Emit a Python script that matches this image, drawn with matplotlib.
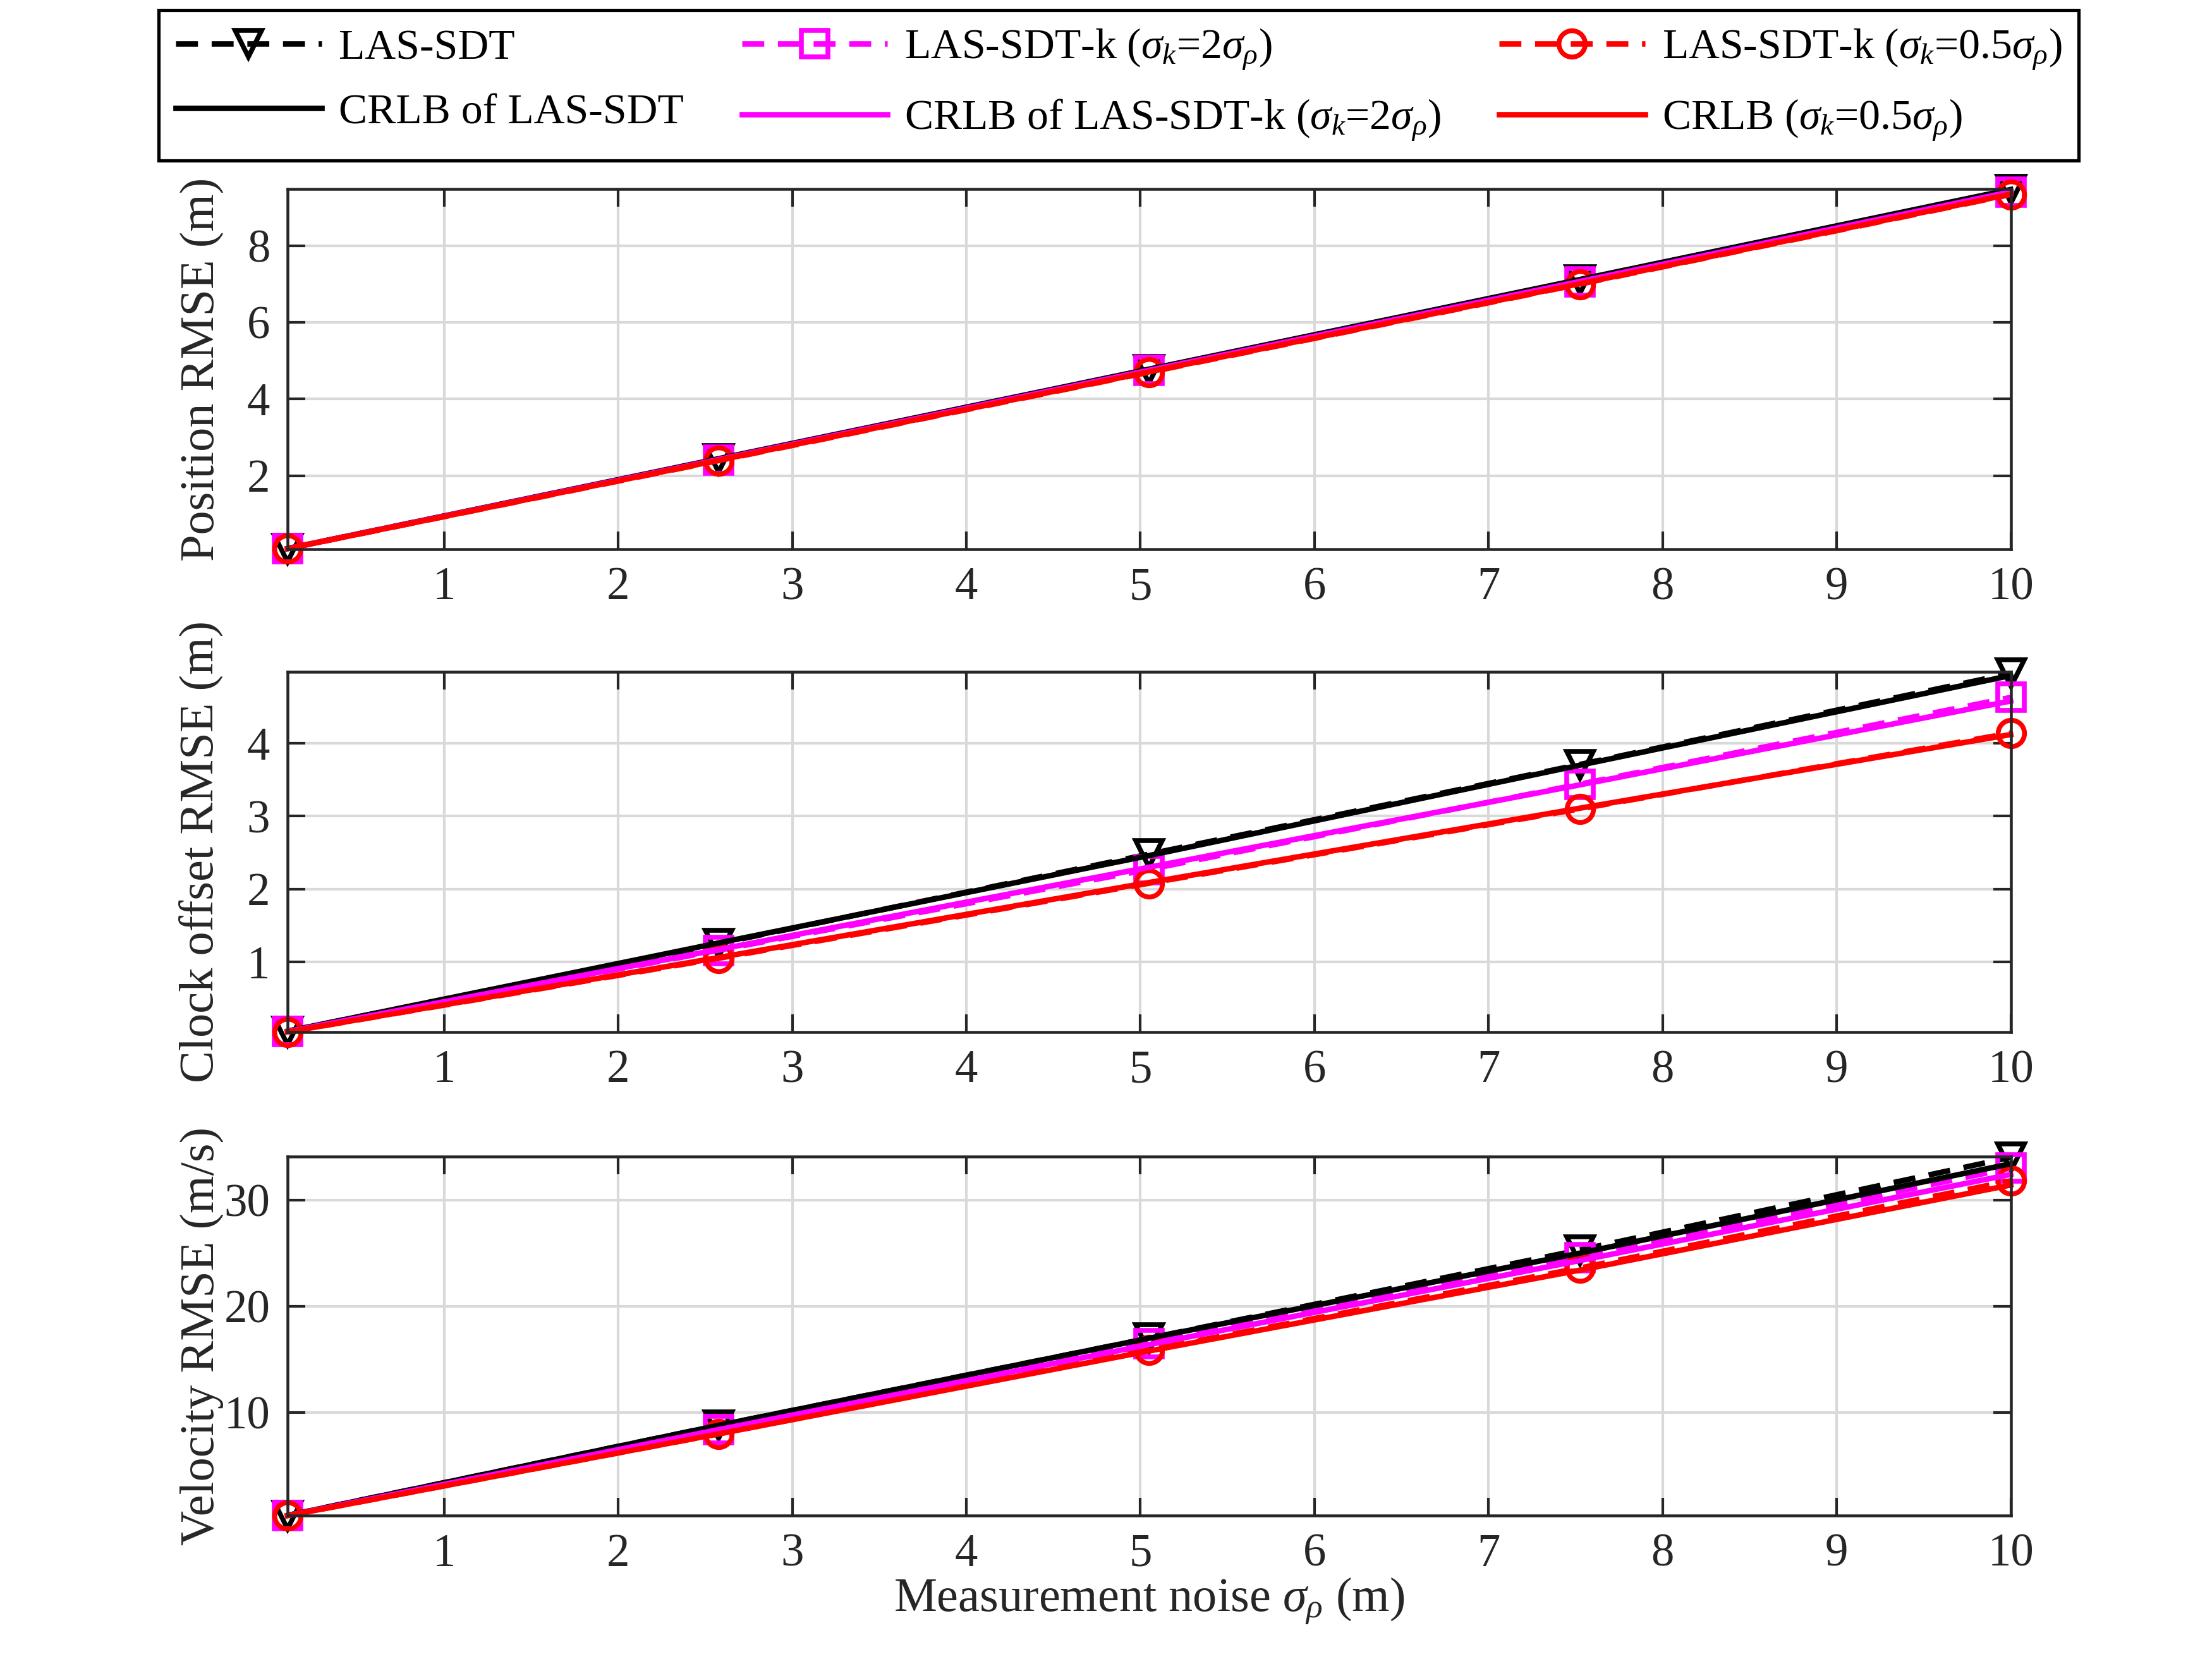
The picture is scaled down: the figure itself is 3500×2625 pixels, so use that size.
import matplotlib
matplotlib.use("Agg")
import matplotlib.pyplot as plt
import numpy as np

plt.rcParams['font.family'] = ['Liberation Serif', 'DejaVu Serif']
plt.rcParams['mathtext.fontset'] = 'custom'
plt.rcParams['mathtext.rm'] = 'Liberation Serif'
plt.rcParams['mathtext.it'] = 'Liberation Serif:italic'
plt.rcParams['font.size'] = 21

noise = [0.1, 2.575, 5.05, 7.525, 10.0]

# position RMSE (m)
pos_sdt = [0.095, 2.43, 4.77, 7.11, 9.46]
pos_k2 = [0.094, 2.41, 4.74, 7.06, 9.40]
pos_k05 = [0.093, 2.39, 4.70, 7.00, 9.34]
pos_crlb = [0.095, 2.44, 4.78, 7.12, 9.47]
pos_crlb_k2 = [0.094, 2.42, 4.75, 7.07, 9.41]
pos_crlb_k05 = [0.093, 2.40, 4.71, 7.01, 9.35]

# clock offset RMSE (m)
clk_sdt = [0.05, 1.25, 2.48, 3.71, 4.96]
clk_k2 = [0.046, 1.16, 2.27, 3.44, 4.63]
clk_k05 = [0.04, 1.05, 2.08, 3.10, 4.14]
clk_crlb = [0.05, 1.26, 2.46, 3.70, 4.93]
clk_crlb_k2 = [0.046, 1.17, 2.30, 3.43, 4.58]
clk_crlb_k05 = [0.04, 1.06, 2.09, 3.11, 4.12]

# velocity RMSE (m/s)
vel_sdt = [0.34, 8.8, 17.0, 25.3, 34.0]
vel_k2 = [0.33, 8.4, 16.5, 24.6, 33.0]
vel_k05 = [0.32, 8.0, 15.9, 23.6, 31.8]
vel_crlb = [0.34, 8.8, 17.0, 25.0, 33.4]
vel_crlb_k2 = [0.33, 8.4, 16.4, 24.3, 32.4]
vel_crlb_k05 = [0.32, 8.0, 15.8, 23.4, 31.4]

ylabels = ['Position RMSE (m)', 'Clock offset RMSE (m)', 'Velocity RMSE (m/s)']
yticks = [[2, 4, 6, 8], [1, 2, 3, 4], [10, 20, 30]]
ylims = [(0.08, 9.48), (0.04, 4.98), (0.3, 34.1)]
panels = [
    (pos_sdt, pos_k2, pos_k05, pos_crlb, pos_crlb_k2, pos_crlb_k05),
    (clk_sdt, clk_k2, clk_k05, clk_crlb, clk_crlb_k2, clk_crlb_k05),
    (vel_sdt, vel_k2, vel_k05, vel_crlb, vel_crlb_k2, vel_crlb_k05),
]

labels = ['LAS-SDT',
          r'LAS-SDT-k ($\sigma_k$=2$\sigma_\rho$)',
          r'LAS-SDT-k ($\sigma_k$=0.5$\sigma_\rho$)',
          'CRLB of LAS-SDT',
          r'CRLB of LAS-SDT-k ($\sigma_k$=2$\sigma_\rho$)',
          r'CRLB ($\sigma_k$=0.5$\sigma_\rho$)']
colors = ['black', '#ff00ff', 'red']
markers = ['v', 's', 'o']

axc = '0.15'
fig = plt.figure(figsize=(14, 10.5))
boxes = [(0.886, 0.669), (0.595, 0.378), (0.303, 0.0863)]
handles = []
for i, (top, bot) in enumerate(boxes):
    ax = fig.add_axes([0.130, bot, 0.909 - 0.130, top - bot])
    data = panels[i]
    hs = []
    for j in range(3):
        h, = ax.plot(noise, data[j], ls='--', color=colors[j], lw=2.5,
                     marker=markers[j], ms=12, mfc='none', mew=2.2,
                     dashes=(4, 2.5), clip_on=False)
        hs.append(h)
    for j in range(3):
        h, = ax.plot(noise, data[j + 3], ls='-', color=colors[j], lw=2.5,
                     clip_on=False)
        hs.append(h)
    handles = hs
    ax.set_xlim(0.1, 10)
    ax.set_ylim(*ylims[i])
    ax.set_xticks(range(1, 11))
    ax.set_yticks(yticks[i])
    ax.grid(True, color='0.85', lw=1.2)
    ax.tick_params(direction='in', top=True, right=True, length=8,
                   width=1.2, colors=axc, labelcolor=axc, pad=8)
    for s in ax.spines.values():
        s.set_color(axc)
        s.set_linewidth(1.3)
    ax.set_ylabel(ylabels[i], color=axc, fontsize=22)
    ax.yaxis.set_label_coords(-0.037, 0.5)
    if i == 2:
        ax.set_xlabel(r'Measurement noise $\sigma_\rho$ (m)', color=axc,
                      fontsize=22, labelpad=0)

order = [0, 3, 1, 4, 2, 5]
leg = fig.legend([handles[k] for k in order], [labels[k] for k in order],
                 ncol=3, loc='lower left', fontsize=19.5,
                 bbox_to_anchor=(0.0718, 0.9034, 0.868, 0.0923),
                 mode='expand', handlelength=3.4, numpoints=1,
                 fancybox=False, framealpha=1, edgecolor='black',
                 borderaxespad=0, columnspacing=0.4, handletextpad=0.4,
                 labelspacing=0.6, borderpad=0.4)
leg.get_frame().set_linewidth(1.5)

fig.savefig('out.png', dpi=250)
